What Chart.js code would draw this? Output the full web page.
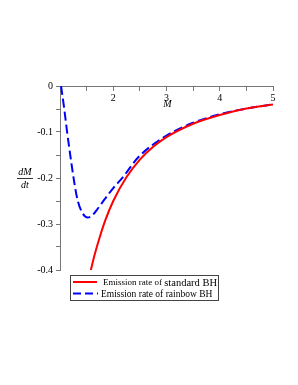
<!DOCTYPE html>
<html>
<head>
<meta charset="utf-8">
<script src="https://cdn.jsdelivr.net/npm/chart.js@4/dist/chart.umd.min.js"></script>
<style>
html,body{margin:0;padding:0;background:#fff;}
#wrap{width:298px;height:385px;position:relative;}
</style>
</head>
<body>
<div id="wrap"><canvas id="c" width="298" height="385"></canvas></div>
<script>
// Standard BH emission rate
const massStandard = [1.58, 1.65, 1.75, 1.85, 2.0, 2.25, 2.5, 2.75, 3.0, 3.5, 4.0, 4.5, 5.0];
const rateStandard = [-0.400, -0.367, -0.327, -0.292, -0.250, -0.198, -0.160, -0.132, -0.111, -0.082, -0.063, -0.049, -0.040];
// Rainbow BH emission rate
const massRainbow = [1.02, 1.08, 1.13, 1.19, 1.27, 1.33, 1.42, 1.52, 1.60, 1.70, 1.84, 2.0, 2.19, 2.47, 2.97, 3.5, 4.0, 4.5, 5.0];
const rateRainbow = [0, -0.050, -0.097, -0.148, -0.211, -0.248, -0.276, -0.286, -0.282, -0.268, -0.246, -0.222, -0.197, -0.155, -0.110, -0.080, -0.0615, -0.049, -0.040];
// Axis ticks
const xTickLabels = [2, 3, 4, 5];
const yTickLabels = [0, -0.1, -0.2, -0.3, -0.4];
const seriesNames = ["Emission rate of ", "standard BH", "Emission rate of rainbow BH"];

const serif = "'Liberation Serif', 'DejaVu Serif', serif";

const pts = (xs, ys) => xs.map((x, i) => ({x: x, y: ys[i]}));

const annotate = {
  id: 'annotate',
  afterDraw(chart) {
    const ctx = chart.ctx;
    const xs = chart.scales.x, ys = chart.scales.y;
    ctx.save();
    // x axis title "M"
    ctx.fillStyle = '#000';
    ctx.font = 'italic 10px ' + serif;
    ctx.textAlign = 'center';
    ctx.textBaseline = 'middle';
    ctx.fillText('M', xs.getPixelForValue(3) + 1, ys.getPixelForValue(0) + 18);
    // y axis title dM/dt as fraction
    const fx = 25, fy = ys.getPixelForValue(-0.2);
    ctx.fillText('dM', fx, fy - 6);
    ctx.fillText('dt', fx, fy + 7);
    ctx.strokeStyle = '#000';
    ctx.lineWidth = 0.8;
    ctx.beginPath();
    ctx.moveTo(17, fy + 0.5);
    ctx.lineTo(33, fy + 0.5);
    ctx.stroke();
    // legend box
    const bx = 70.5, by = 275.5, bw = 148, bh = 25;
    ctx.fillStyle = '#fff';
    ctx.fillRect(bx, by, bw, bh);
    ctx.strokeStyle = '#444';
    ctx.lineWidth = 1;
    ctx.strokeRect(bx, by, bw, bh);
    // red sample
    ctx.strokeStyle = '#ff0000';
    ctx.lineWidth = 2;
    ctx.setLineDash([]);
    ctx.beginPath();
    ctx.moveTo(73, 282); ctx.lineTo(97, 282);
    ctx.stroke();
    // blue sample
    ctx.strokeStyle = '#0000ff';
    ctx.setLineDash([8, 4]);
    ctx.beginPath();
    ctx.moveTo(73, 293.5); ctx.lineTo(98, 293.5);
    ctx.stroke();
    ctx.setLineDash([]);
    // texts
    ctx.fillStyle = '#000';
    ctx.textAlign = 'left';
    ctx.textBaseline = 'alphabetic';
    ctx.font = '9px ' + serif;
    ctx.fillText(seriesNames[0], 103, 285);
    const w = ctx.measureText(seriesNames[0]).width;
    ctx.font = '10.5px ' + serif;
    ctx.fillText(seriesNames[1], 103 + w, 285.5);
    ctx.font = '9.5px ' + serif;
    ctx.fillText(seriesNames[2], 101, 297);
    ctx.restore();
  }
};

new Chart(document.getElementById('c'), {
  type: 'line',
  data: {
    datasets: [
      {
        label: seriesNames[0] + seriesNames[1],
        data: pts(massStandard, rateStandard),
        borderColor: '#ff0000',
        borderWidth: 2,
        pointRadius: 0,
        fill: false,
        cubicInterpolationMode: 'monotone'
      },
      {
        label: seriesNames[2],
        data: pts(massRainbow, rateRainbow),
        borderColor: '#0000ff',
        borderWidth: 2,
        borderDash: [9, 4],
        pointRadius: 0,
        fill: false,
        cubicInterpolationMode: 'monotone'
      }
    ]
  },
  options: {
    responsive: false,
    animation: false,
    devicePixelRatio: 1,
    layout: {padding: {left: 0, right: 25, top: 86, bottom: 115}},
    plugins: {legend: {display: false}, tooltip: {enabled: false}},
    scales: {
      x: {
        type: 'linear',
        position: {y: 0},
        min: 1, max: 5,
        afterFit: s => { s.height = 0; },
        border: {display: true, color: '#777', width: 1},
        grid: {drawOnChartArea: false, drawTicks: true, tickLength: 4, color: '#777'},
        ticks: {
          stepSize: 0.5,
          autoSkip: false,
          maxRotation: 0,
          padding: 2,
          color: '#000',
          font: {family: serif, size: 10},
          callback: v => xTickLabels.includes(v) ? String(v) : ''
        }
      },
      y: {
        type: 'linear',
        position: 'left',
        min: -0.4, max: 0,
        afterFit: s => { s.width = 60; },
        border: {display: true, color: '#777', width: 1},
        grid: {drawOnChartArea: false, drawTicks: true, tickLength: 4, color: '#777'},
        ticks: {
          stepSize: 0.05,
          autoSkip: false,
          padding: 3,
          color: '#000',
          font: {family: serif, size: 10},
          callback: v => {
            const r = Math.round(v * 100) / 100;
            const hit = yTickLabels.find(t => Math.abs(t - r) < 1e-9);
            return hit === undefined ? '' : String(hit);
          }
        }
      }
    }
  },
  plugins: [annotate]
});
</script>
</body>
</html>
